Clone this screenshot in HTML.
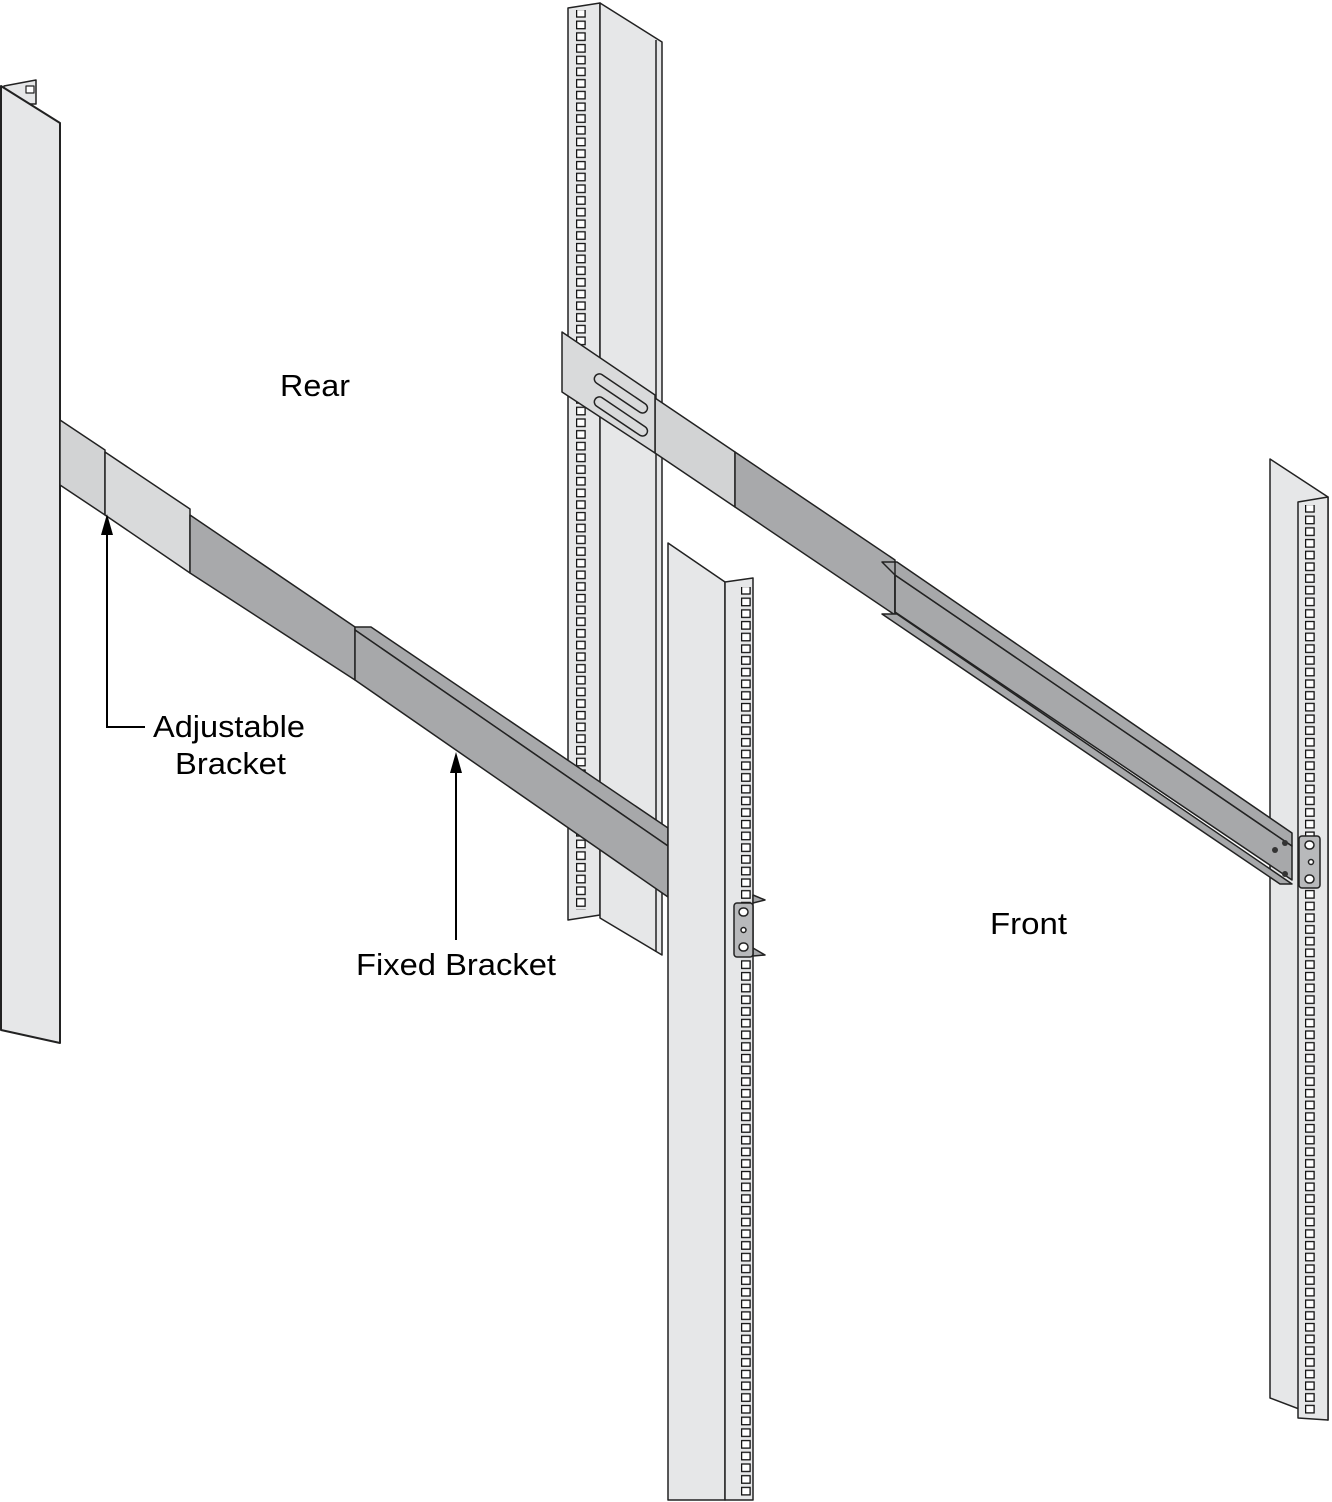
<!DOCTYPE html>
<html><head><meta charset="utf-8"><style>
html,body{margin:0;padding:0;background:#fff;}
svg{display:block;}
text{font-family:"Liberation Sans",Arial,sans-serif;fill:#000;}
</style></head><body>
<svg width="1332" height="1502" viewBox="0 0 1332 1502" xmlns="http://www.w3.org/2000/svg">
<defs>
<pattern id="h1" patternUnits="userSpaceOnUse" x="576" y="8" width="40" height="11.7">
<rect x="0.6" y="1.5" width="8.5" height="7.5" fill="#fff" stroke="#111" stroke-width="1.3"/>
</pattern>
<pattern id="h2" patternUnits="userSpaceOnUse" x="741" y="585" width="40" height="11.7">
<rect x="0.6" y="1.5" width="8.5" height="7.5" fill="#fff" stroke="#111" stroke-width="1.3"/>
</pattern>
<pattern id="h3" patternUnits="userSpaceOnUse" x="1305" y="503" width="40" height="11.7">
<rect x="0.6" y="1.5" width="8.5" height="7.5" fill="#fff" stroke="#111" stroke-width="1.3"/>
</pattern>
</defs>
<g stroke="#222" stroke-width="1.5" stroke-linejoin="round">

<!-- Left rear post -->
<polygon points="4,86 36,80 36,104 4,104" fill="#e6e7e8"/>
<rect x="26" y="86" width="8" height="7" fill="#fff" stroke-width="1.2"/>
<polygon points="1,86 60,123 60,1043 1,1030" fill="#e6e7e8" stroke-width="2"/>

<!-- Rear right post -->
<polygon points="568,8 600,3 600,915 568,920" fill="#e6e7e8"/>
<rect x="576" y="10" width="12" height="900" fill="url(#h1)" stroke="none"/>
<polygon points="600,3 662,42 662,955 600,918" fill="#e6e7e8"/>
<line x1="656" y1="40" x2="656" y2="952"/>

<!-- Left bracket -->
<polygon points="60,420 105,450 105,515 60,485" fill="#d2d3d4"/>
<polygon points="105,452 190,509 190,573 105,515" fill="#d9dadb"/>
<polygon points="190,515 355,627 355,680 190,573" fill="#a8a9ab"/>
<polygon points="355,627 371,627 668,828 668,846 355,630" fill="#a7a8aa"/>
<polygon points="355,630 668,846 668,897 355,680" fill="#a7a8aa"/>

<!-- Front right post -->
<polygon points="1270,459 1328,497 1328,1420 1270,1398" fill="#e6e7e8"/>
<polygon points="1298,502 1328,497 1328,1420 1298,1418" fill="#e6e7e8"/>
<rect x="1305" y="505" width="12" height="910" fill="url(#h3)" stroke="none"/>

<!-- Right bracket -->
<polygon points="655,398 735,452 735,507 655,453" fill="#d2d3d4"/>
<polygon points="735,452 895,560 895,615 735,507" fill="#a8a9ab"/>
<polygon points="882,614 897,614 1292,884 1280,884" fill="#a7a8aa"/>
<polygon points="895,575 1292,846 1292,880 895,612" fill="#a7a8aa"/>
<polygon points="882,562 897,562 1292,833 1292,846 895,575" fill="#a7a8aa"/>
<line x1="895" y1="562" x2="895" y2="614"/>
<polygon points="562,332 655,395 655,453 562,392" fill="#d9dadb"/>
<rect x="598" y="372" width="62" height="10" rx="5" fill="none" transform="rotate(34 598 372)"/>
<rect x="598" y="395" width="62" height="10" rx="5" fill="none" transform="rotate(34 598 395)"/>
<circle cx="1275" cy="850" r="3" fill="#333" stroke="none"/>
<circle cx="1285" cy="843" r="3" fill="#333" stroke="none"/>
<circle cx="1285" cy="874" r="3" fill="#333" stroke="none"/>

<!-- Front left post -->
<polygon points="668,543 725,582 725,1500 668,1500" fill="#e6e7e8"/>
<polygon points="725,582 753,578 753,1500 725,1500" fill="#e6e7e8"/>
<rect x="741" y="587" width="12" height="910" fill="url(#h2)" stroke="none"/>
<polygon points="753,895 765,900 753,903" fill="#a7a8aa"/>
<polygon points="753,948 765,955 753,956" fill="#a7a8aa"/>
<rect x="734" y="903" width="19" height="54" rx="3" fill="#b8b9bb"/>
<rect x="739" y="908" width="9" height="8" rx="4" fill="#fff"/>
<circle cx="743.5" cy="930" r="2.5" fill="#fff"/>
<rect x="739" y="943" width="9" height="8" rx="4" fill="#fff"/>

<!-- Right ear -->
<rect x="1299" y="836" width="21" height="52" rx="3" fill="#b8b9bb"/>
<rect x="1305" y="841" width="9" height="8" rx="4" fill="#fff"/>
<circle cx="1311" cy="862" r="2.5" fill="#fff"/>
<rect x="1305" y="875" width="9" height="8" rx="4" fill="#fff"/>
</g>

<!-- Arrows -->
<g stroke="#000" stroke-width="2" fill="none">
<polyline points="145,727 107,727 107,532"/>
<line x1="456" y1="940" x2="456" y2="770"/>
</g>
<polygon points="101,535 113,535 107,514" fill="#000"/>
<polygon points="450,773 462,773 456,752" fill="#000"/>

<text x="280" y="396" font-size="31" textLength="70" lengthAdjust="spacingAndGlyphs">Rear</text>
<text x="990" y="934" font-size="31" textLength="77" lengthAdjust="spacingAndGlyphs">Front</text>
<text x="153" y="737" font-size="31" textLength="152" lengthAdjust="spacingAndGlyphs">Adjustable</text>
<text x="175" y="774" font-size="31" textLength="111" lengthAdjust="spacingAndGlyphs">Bracket</text>
<text x="356" y="975" font-size="31" textLength="200" lengthAdjust="spacingAndGlyphs">Fixed Bracket</text>
</svg>
</body></html>
